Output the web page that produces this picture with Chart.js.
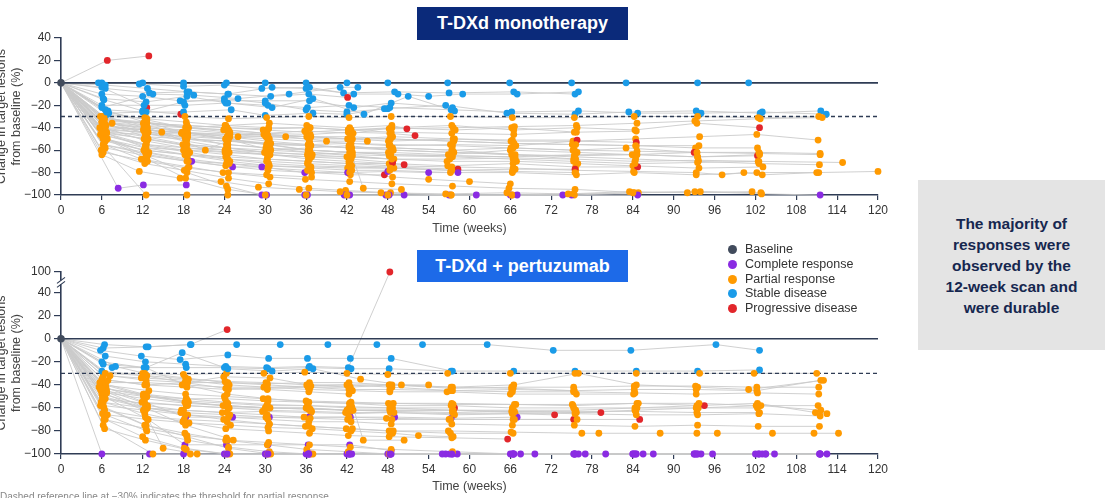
<!DOCTYPE html>
<html>
<head>
<meta charset="utf-8">
<script src="https://cdn.jsdelivr.net/npm/chart.js@4.4.1/dist/chart.umd.min.js"></script>
<style>
  body { margin:0; width:1109px; height:498px; overflow:hidden; background:#fff; position:relative;
         font-family:"Liberation Sans", Arial, sans-serif; }
  canvas { position:absolute; }
  #monoChart { left:-6px; top:0; }
  #pertChart { left:-6px; top:240px; }
  .tag { position:absolute; left:417px; width:211px; color:#fff; font-weight:bold; font-size:18px;
         text-align:center; }
  #monoTag { top:7px; height:33px; line-height:33px; background:#0b2a7a; }
  #pertTag { top:250px; height:32px; line-height:32px; background:#1d6ae8; }
  #legend { position:absolute; left:727px; top:242px; font-size:12.5px; color:#333; }
  #legend div { height:14.8px; line-height:14.8px; white-space:nowrap; }
  #legend span { display:inline-block; width:9px; height:9px; border-radius:50%; margin:0 8px 0 1px; vertical-align:-1px; }
  #note { position:absolute; left:918px; top:180px; width:187px; height:170px; background:#e4e4e4;
          display:flex; align-items:center; justify-content:center; text-align:center;
          color:#16274f; font-weight:bold; font-size:15.5px; line-height:21px; }
  #foot { position:absolute; left:0; top:491px; font-size:10px; color:#888; white-space:nowrap; }
</style>
</head>
<body>
<canvas id="monoChart" width="902" height="240"></canvas>
<canvas id="pertChart" width="902" height="258"></canvas>
<div class="tag" id="monoTag">T-DXd monotherapy</div>
<div class="tag" id="pertTag">T-DXd + pertuzumab</div>
<div id="legend"></div>
<div id="note"><div>The majority of<br>responses were<br>observed by the<br>12-week scan and<br>were durable</div></div>
<div id="foot">Dashed reference line at &minus;30% indicates the threshold for partial response</div>
<script>
// response categories (C complete, P partial, S stable, D progressive)
const legendLabels = ['Baseline', 'Complete response', 'Partial response', 'Stable disease', 'Progressive disease'];
const legendColours = ['#414b5c', '#8a2be2', '#ff9a00', '#1a9be8', '#e2262b'];
const statusColours = { C: '#8a2be2', P: '#ff9a00', S: '#1a9be8', D: '#e2262b' };

const weekTicks = [0, 6, 12, 18, 24, 30, 36, 42, 48, 54, 60, 66, 72, 78, 84, 90, 96, 102, 108, 114, 120];
const monoYTicks = [-100, -80, -60, -40, -20, 0, 20, 40];
const pertYTicks = [-100, -80, -60, -40, -20, 0, 20, 40, 100];

// T-DXd monotherapy: one row per patient
const monoWeeks = [
  [6.8, 12.9],
  [6, 12.6],
  [6.3, 12, 17.6],
  [6, 12, 18, 24.3, 30, 36, 42, 48, 56.8, 65.9, 75, 83, 93.5, 101],
  [5.5, 11.5, 18, 24, 29.5, 36.5, 41.5, 49, 57, 66.5, 75.5],
  [6.5, 13, 18.5, 24.5, 31, 36, 43, 49.5, 54, 59, 67, 76],
  [6, 12, 17.5, 24, 30, 36.5, 43, 48.5, 57.5],
  [6.2, 12.5, 18.5, 24.5, 31, 37, 44.5, 51, 57.8],
  [6, 12.2, 18.2, 24.2, 30.4, 36.2, 42.3, 48.3, 57.3, 66.2, 76, 84.7, 94, 103, 112.4],
  [6.5, 12, 18, 24, 30, 36, 42, 48, 56.5, 65.5, 75.5, 83.4, 93.3, 102.7, 111.6],
  [7, 12.5, 18, 25, 30, 37, 42, 47.5],
  [6, 13.5, 19.5, 26, 33.5, 41, 43.6],
  [5.8, 12.3, 18.2, 24.6, 30.2, 36.4, 42.3, 48.5, 57.2, 66.3, 75.4, 84.2, 93.5, 102.4, 111.3],
  [6.2, 12.6, 18.5, 24.2, 30.5, 36.6, 42.6, 48.2, 57.6, 66.6, 75.7, 84.6, 93.1, 102.7, 111.8],
  [6.6, 12.1, 17.8, 24.8, 29.8, 36.1, 42.1, 48.7, 57.8, 66.1, 75.2, 84.4, 93.8, 102.2, 111.2],
  [6, 12.5, 18, 24.4, 30.3, 36.3, 42.5, 48.4, 57.4, 66.4, 75.6, 84.1, 93.3, 97.1, 100.3, 103, 111, 120],
  [6.4, 12.4, 18.6, 24.1, 30.6, 36.8, 42.2, 48.9, 57.1, 66.7, 75.3, 84.3, 93.6, 102.5, 114.8],
  [5.7, 12.7, 18.3, 24.5, 30.1, 36.5, 42.8, 48.1, 56.9, 66, 75.8, 83.9, 93.4, 102.6, 111.5],
  [6.3, 11.8, 18.8, 23.8, 30.7, 35.9, 42.4, 48.6, 57.5, 65.8, 75.5, 84.8, 93.9, 102.9, 111.5],
  [6.1, 12.2, 18.4, 24.7, 30.4, 36.7, 42.7, 48.3, 57.7, 66.5, 75.1, 84.5, 93.2, 102.3],
  [6.7, 12.8, 17.9, 24.3, 29.9, 36.2, 42, 48.8, 56.7, 66.9, 75.9, 84, 93.7, 103.1],
  [5.9, 12.3, 18.1, 24.6, 30.5, 36.4, 41.8, 48.4, 57.3, 66.3, 75.4, 84.2, 93.1, 102.8],
  [6.4, 12.6, 18.7, 23.9, 30.2, 35.8, 42.9, 48.5, 57.9, 66.2, 75.7, 84.5],
  [6.2, 12.4, 18.3, 24.5, 30.8, 36.6, 42.5, 48.2, 57.2, 66.8, 75.3, 84.5],
  [6.5, 12.2, 18.6, 24.2, 30.3, 36.3, 42.3, 48.7, 56.8, 66.4, 75.6, 84.7],
  [6, 12.7, 18.2, 24.8, 30.6, 36.5, 42.6, 48.3, 57.5, 66.1, 75.2, 83, 93],
  [6.3, 12.1, 18.5, 24.4, 29.7, 36, 42.2, 48.6, 57.4, 66.5, 75.8, 84.3, 93.4, 102.6],
  [6.6, 12.5, 18.4, 24.1, 30.4, 36.9, 42.4, 48.4, 57.1, 66.6, 75.5, 84.6, 93.5, 102.3],
  [6.1, 12.3, 17.7, 24.6, 30.1, 36.4, 42.8, 48.1, 57.6, 66.3, 75.8],
  [6.8, 12.9, 18.6, 24.3, 30.5, 36.7, 42.1, 48.9, 57.3, 66.7, 75.5],
  [5.8, 12.4, 18.9, 24.5, 30.2, 36.2, 42.7, 48.5, 58.3],
  [6.4, 12.6, 18.2, 24.7, 30.7, 36.5, 42.3, 48.2, 50.4],
  [6.2, 12.8, 18.5, 24.2, 30.4, 36.8, 42.5, 47.5],
  [6.7, 12.2, 18.3, 24.4, 30.3, 36.3, 42.6, 48.7],
  [6.3, 12.5, 18.7, 24.6, 29.9, 36.6, 42.2, 48.3, 52],
  [6, 12.3, 18.4, 24.1, 30.6, 36.1, 42.4, 48.6, 50.8],
  [6.5, 12.7, 18.8, 24.6, 30.8, 36.4, 42.1],
  [8.4, 12.1, 18.4],
  [6.2, 12.4, 19.2, 25.2, 29.5, 35.8, 42.1, 48, 54, 58.3],
  [6.6, 12.6, 18.3, 24.5, 30.2, 36.2, 42.4, 48.2, 50.4, 61, 67, 73.7],
  [6.1, 12.5, 18.5, 24.3, 29.5, 35.8, 41.6, 47.7, 57, 66, 75, 84.7],
  [6.4, 12.5, 18.5, 24.5, 30, 36, 42, 48, 57.3, 66.2, 75.3, 84],
  [6, 11.5, 17.5, 23.5, 29, 35, 41, 47, 56.5, 65.5, 74.5, 83.5, 92, 101.5],
  [6.5, 12.4, 18.6, 24.4, 30.4, 36.3, 42.5, 48.6, 57.6, 66.4, 75.4, 84.4, 93.6, 102.5, 111.4],
  [6.2, 12.2, 18.2, 24.8, 30.6, 36.7, 42.7, 48.3, 57.2, 66.3, 75.7, 84.2, 93.3, 102.2, 111.3],
  [6.8, 12.6, 18.4, 24.2, 30.5, 36.5, 42.2, 48.5, 57.4, 66.5, 75.4],
  [6.9, 12.3, 18.6, 24.6, 30.2, 36.3, 42.6, 48.4, 57.3, 66.6],
  [6.2, 12.8, 18.1, 24.3, 30.8, 36.4, 42.3, 48.8, 57.7, 66.2, 75.6],
  [6.4, 12.4, 18.5, 24.5, 30.3, 36.6, 42.5, 48.2, 57.5, 66.4, 75.3, 84.3, 93.5, 102.4],
  [6.5, 12.6, 18.7, 24.7, 30.4, 36.2, 42.4, 48.7, 54, 60, 66],
  [6.3, 12.2, 18.3, 24.2, 30.6, 36.5, 42.6, 44.4, 50],
  [6.1, 14.8, 21.2, 26, 33, 39, 45],
  [6.6, 12.5, 18.4, 24.4, 30.5, 36.4, 42.4, 48.4, 57.4, 66.3, 75.5],
  [6.2, 12.7, 18.6, 24.6, 30.2, 36.8],
  [6.4, 12.3, 18.2, 24.3, 30.7, 36.3, 42.8, 48.6],
  [6, 12.4, 18.5, 24.5, 30.4, 36.4, 42.3, 48.5, 57.5, 66.4, 75.4, 84.6, 93.4, 102.5, 111.5],
  [6.7, 12.6, 18.3, 24.8, 30.3, 36.5, 42.5, 48.4, 57.6, 66.5, 75.6, 84.4, 93.7],
  [6.3, 12.5, 18.6, 24.2, 30.6, 36.7, 42.7, 48.7, 57.4, 66.7, 75.4, 84.5, 93.5, 102.6],
  [7.5, 12.4, 18.4, 24.4, 30.3]
];
const monoChange = [
  [20, 24],
  [-4, -22],
  [-15, -25, -28],
  [0, 0, 0, 0, 0, 0, 0, 0, 0, 0, 0, 0, 0, 0],
  [0, -1, -3, -2, -5, -4, -9, -8, -9, -8, -10],
  [-5, -9, -8, -10, -4, -5, -10, -10, -12, -10, -10, -8],
  [-10, -12, -16, -16, -16, -16, -22, -18, -22],
  [-14, -17, -12, -18, -22, -14, -28, -12, -25],
  [-20, -20, -20, -18, -20, -22, -20, -22, -24, -26, -25, -27, -27, -26, -28],
  [-24, -26, -17, -14, -18, -24, -26, -23, -20, -27, -28, -26, -25, -27, -25],
  [-27, -26, -26, -24, -29, -27, -28, -23],
  [-22, -10, -11, -14, -10, -4, -4],
  [-30, -31, -30, -32, -31, -30, -31, -30, -30, -31, -31, -30, -30, -31, -30],
  [-33, -36, -38, -40, -41, -40, -42, -41, -40, -39, -38, -36, -34, -32, -31],
  [-38, -42, -44, -46, -46, -48, -50, -48, -50, -52, -52, -50, -48, -46, -51],
  [-44, -55, -60, -64, -68, -70, -72, -74, -75, -76, -78, -79, -80, -82, -80, -82, -80, -79],
  [-50, -58, -60, -62, -64, -66, -66, -68, -68, -67, -68, -70, -69, -70, -71],
  [-40, -45, -50, -55, -58, -60, -62, -62, -64, -60, -62, -64, -62, -63, -64],
  [-55, -68, -75, -80, -84, -86, -88, -90, -92, -94, -95, -98, -97, -99, -100],
  [-36, -40, -42, -45, -47, -48, -50, -50, -52, -54, -55, -56, -58, -58],
  [-45, -50, -55, -58, -62, -64, -66, -68, -70, -70, -72, -74, -76, -75],
  [-60, -72, -78, -85, -90, -94, -96, -98, -100, -100, -100, -98, -97, -98],
  [-32, -35, -40, -42, -45, -43, -45, -40, -42, -40, -44, -43],
  [-42, -48, -50, -52, -54, -55, -54, -56, -55, -56, -52, -53],
  [-52, -60, -64, -66, -68, -70, -72, -72, -74, -72, -75, -75],
  [-35, -40, -44, -48, -50, -52, -54, -55, -56, -58, -60, -58, -62],
  [-34, -36, -38, -40, -42, -44, -42, -40, -38, -42, -40, -42, -36, -40],
  [-47, -55, -58, -60, -62, -64, -62, -64, -65, -66, -64, -64, -66, -65],
  [-38, -42, -45, -46, -48, -50, -50, -52, -50, -51, -51],
  [-50, -62, -68, -72, -74, -75, -76, -76, -78, -77, -77],
  [-46, -56, -62, -68, -70, -72, -74, -75, -77],
  [-40, -52, -58, -62, -64, -68, -70, -72, -73],
  [-55, -64, -70, -74, -78, -80, -82, -82],
  [-44, -50, -56, -60, -64, -66, -68, -71],
  [-32, -36, -40, -42, -45, -46, -44, -45, -47],
  [-35, -38, -40, -38, -36, -38, -40, -38, -41],
  [-2, -5, -8, -10, -12, -10, -13],
  [-94, -91, -91],
  [-55, -62, -70, -75, -75, -80, -80, -79, -80, -80],
  [-50, -68, -85, -95, -100, -100, -100, -100, -100, -100, -100, -100],
  [-48, -65, -80, -92, -100, -100, -100, -100, -100, -100, -100, -100],
  [-58, -100, -100, -100, -100, -100, -100, -100, -100, -100, -99, -98],
  [-64, -79, -85, -88, -93, -95, -97, -98, -99, -98, -99, -97, -98, -97],
  [-40, -42, -45, -48, -52, -55, -58, -60, -62, -64, -66, -68, -70, -72, -73],
  [-50, -60, -64, -70, -74, -76, -78, -78, -80, -80, -82, -80, -82, -80, -80],
  [-28, -32, -35, -38, -40, -40, -42, -44, -45, -46, -44],
  [-25, -35, -45, -50, -55, -60, -62, -64, -65, -66],
  [-42, -44, -46, -50, -60, -58, -56, -60, -62, -64, -68],
  [-36, -48, -55, -58, -60, -62, -64, -65, -66, -68, -70, -72, -71, -70],
  [-58, -65, -70, -72, -76, -78, -80, -84, -86, -88, -90],
  [-30, -38, -44, -50, -55, -60, -62, -94, -95],
  [-35, -44, -60, -48, -48, -52, -52],
  [-45, -58, -64, -68, -72, -74, -75, -76, -78, -79, -80],
  [-62, -70, -76, -80, -82, -84],
  [-38, -44, -48, -55, -58, -62, -65, -68],
  [-30, -40, -50, -52, -55, -56, -58, -58, -60, -58, -60, -61, -62, -62, -63],
  [-26, -33, -40, -44, -46, -48, -48, -50, -52, -54, -55, -56, -56],
  [-44, -46, -48, -50, -54, -56, -58, -58, -60, -64, -65, -64, -66, -64],
  [-36, -45, -52, -58, -62]
];
// one letter for every visit, or a single letter for all visits
const monoStatus = [
  'DD', 'SD', 'SSD', 'S', 'S', 'S', 'S', 'S', 'S', 'S', 'S', 'S',
  'P', 'P', 'P', 'P', 'P', 'P', 'PPPPPPPPPPPPPPC', 'P', 'P', 'P', 'P',
  'PPPPPPPPPPPD', 'PPPPPPPPPPPD', 'PPPPPPPPPPPPD', 'PPPPPPPPPPPPPD', 'PPPPPPPPPPPPPD',
  'PPPPPPPPPPD', 'PPPPPPPPPPD', 'PPPPPPPPD', 'PPPPPPPPD', 'PPPPPPPD', 'PPPPPPPD',
  'PPPPPPPPD', 'PPPPPPPPD', 'SSSSSSD', 'C', 'PPCCCCCCCC', 'PPPPCCCCCCCC', 'PPPPCCCCCCCC',
  'P', 'P', 'P', 'P', 'SPPPPPPPPPP', 'SPPPPPPPPP', 'P', 'P', 'P', 'P', 'P', 'P', 'P', 'P', 'P',
  'SPPPPPPPPPPPP', 'P', 'P'
];

// T-DXd + pertuzumab: one row per patient
const pertWeeks = [
  [6.2, 12.8, 19, 24.4],
  [6.5, 12.4, 18.3, 24.2, 30.2, 36.5, 42.2, 48.3],
  [6.4, 12.5, 19.1, 25.8, 32.2, 39.2, 46.4, 53.1, 62.6, 72.3, 83.7, 96.2, 102.6],
  [5.8, 11.8, 17.5, 24.5, 30.5, 36.2, 42.5, 48.5, 57.5],
  [6, 12.2, 18.4, 24, 30.4, 36.4, 42.6, 48.2, 57.3, 66.5, 75.5, 84.5, 93.5, 102.6],
  [6.3, 12, 18, 24.3, 29.8, 35.8, 42, 48, 56.8, 66, 75.5, 84.5, 93.8, 101.8, 111],
  [7.5, 12.5, 17.8, 24.5, 31, 37, 44, 50, 57.5, 66.5, 76, 84.5, 93.5, 101, 112],
  [6, 12.3, 18.5, 24.6, 30.3, 36.3, 42.3, 48.6, 57.3, 66.2, 75.3, 84.2, 93.2, 102.2, 111.3],
  [5.6, 12.6, 18.2, 23.8, 30, 36, 42, 48.3, 57.6, 66.4, 75.6, 84.6, 93.4, 102.3, 110.8, 112.5],
  [6.1, 12.7, 18.6, 23.9, 30.6, 35.9, 42.8, 48.8, 56.9, 66.1, 76.5, 79, 88, 93.4, 96.4, 104.5, 110.6, 114.2],
  [5.9, 12.4, 17.7, 24.4, 29.6, 36.7, 42.4, 48.4, 57.8, 66.7, 75.7, 84.3, 93.6, 102.8, 111.6],
  [6, 13, 18, 24, 30, 36, 42, 48, 56.5, 66, 75.5, 84, 93, 102, 111.5],
  [6.6, 12.2, 18.3, 25.2, 30.6, 36.4, 42.5, 49, 57.3, 67],
  [6.3, 12.8, 18.2, 24.3, 30.4, 36.3, 42.4, 48.5],
  [5.8, 12.5, 18.5, 24.6, 30.8, 36.6],
  [6.4, 12.6, 18.6, 24.5, 30.2, 36.2, 42.7, 48.7, 57.8],
  [6.2, 12.3, 17.9, 24.2, 30.5, 36.5, 42.2, 48.2, 57.4, 65.6],
  [6.7, 11.9, 18.4, 24.7, 29.9, 36.8, 41.8, 48.9, 57.7, 66.3, 72.5],
  [6, 12.7, 18, 23.7, 30.3, 35.7, 42.3, 47.8, 57, 66.6, 75.3],
  [5.7, 12.1, 18.7, 24.3, 30.7, 36.3, 42.9, 48.4, 57.5, 66.2, 75.6, 79.3],
  [6.5, 12.4, 17.6, 24.8, 30.1, 36.6, 42.1, 48.6, 57.2, 66.4, 75.8, 85],
  [6.2, 12.9, 18.3, 24, 29.7, 36, 42.6, 48.1, 57.6, 66.8, 75.2, 84.6, 94.5],
  [6.3, 12.3, 18.2, 24.2, 30.3, 36.1, 42.2, 48.2, 57.1, 66.3, 75.3, 84.2, 93.2, 102.5, 111.5],
  [6.1, 12.6, 18.6, 24.6, 30.6, 36.4, 42.4, 48.4, 56, 66.5, 76, 85.5, 94, 103.5, 112.5],
  [6.5, 12, 18.1, 24.4, 30.2, 36.3, 42.3, 48.3, 57.5, 67.5, 77, 87, 95.7, 104.8],
  [6.2, 13.5, 19, 24.8, 30.4, 37, 42.7, 48.5, 58.2, 69.6, 80, 84, 93, 103],
  [5.9, 12.1, 18.4, 24.1, 30.4, 36.2, 42.4, 48.8, 57.4, 66.6, 75.1, 84.8, 93.7, 102.1, 111.2],
  [6.6, 12.5, 17.8, 24.4, 29.8, 36.5, 42.8, 48.3, 56.7, 66, 75.7, 84.1],
  [6.2, 11.8, 18.5, 24.7, 30.2, 36.7, 42, 48.6, 57.5, 66.2, 75.4],
  [6.4, 12.4, 18.1, 24.4, 30.6, 36.4, 41.9, 48.2, 57.2, 66.4],
  [6.8, 12.7, 18.8, 24.9, 30.4, 36.9, 42.6, 48.7, 52.5, 57.6],
  [6, 12.2, 18.2, 24.2, 30.3, 36.4, 42.3, 44.4, 50.4],
  [6.9, 12.6, 18.4, 23.9, 30.7, 36.3, 42.5],
  [5.8, 12.5, 18.3, 24.3, 25.3],
  [6.3, 12.1, 15, 20],
  [6.1, 12.3, 18.6, 24.5, 30.5, 36.6, 42.4, 48.4, 57.6, 66.6, 75.5, 84.4, 93.4, 102.6],
  [6.5, 12.6, 18.7, 24.1, 30.1, 36.1, 42.1, 48.3, 57.3, 66.4, 75.3, 84.2, 93.3, 102.2, 111.6],
  [6.2, 12.4, 18.3, 24.6, 30.4, 36.4, 42.6, 48.5, 57.4, 66.3, 75.4, 84.3, 93.5, 102.4, 111.4],
  [6.7, 12.3, 18.4, 24.2, 30.5, 36.2, 42.2, 48.4],
  [7.2, 12.5, 18.6, 24.5, 30.3, 36.5, 42.3, 48.2, 54],
  [6, 12.2, 18.4, 24.3, 30.3, 36.3, 42.3, 48.3, 57.5, 66.5, 75.5, 84.5, 93.5, 102.5, 111.5],
  [6.2, 12.4, 18.2, 24.4, 30.4, 36.4, 42.4, 48.4, 57.3, 66.3, 75.3, 84.3, 93.3, 102.3],
  [8, 12.3, 18.3, 24.3, 30.3, 36.3, 42.3, 48.3, 57.3, 66.3, 75.3, 84.3, 93.3, 102.3, 111.3],
  [6.3, 12.5, 18.5, 24.5, 30.5, 36.5, 42.5, 48.5, 57.5, 66.5, 75.5, 84.5, 93.5, 102.5, 111.5],
  [6.4, 12.4, 18.4, 24.4, 30.4, 36.4, 42.4, 48.4, 57.4, 66.4, 75.4, 84.4, 93.4, 103.5, 111.4]
];
const pertChange = [
  [-8, -7, -5, 8],
  [-15, -20, -22, -24, -25, -24, -25, 100],
  [-5, -7, -5, -5, -5, -5, -5, -5, -5, -10, -10, -5, -10],
  [-10, -15, -18, -14, -17, -17, -17, -17, -28],
  [-20, -25, -25, -25, -26, -25, -26, -26, -28, -28, -28, -28, -28, -27],
  [-30, -30, -31, -30, -30, -29, -30, -31, -30, -30, -30, -30, -30, -30, -30],
  [-25, -25, -12, -26, -28, -26, -35, -40, -42, -40, -30, -40, -42, -44, -36],
  [-35, -40, -42, -44, -43, -42, -42, -40, -43, -42, -42, -41, -41, -42, -42],
  [-42, -50, -55, -58, -60, -60, -62, -62, -62, -62, -62, -60, -58, -56, -64, -65],
  [-50, -60, -66, -70, -74, -76, -78, -80, -80, -81, -82, -82, -82, -82, -82, -82, -82, -82],
  [-55, -60, -62, -64, -63, -64, -65, -64, -66, -65, -64, -62, -60, -58, -62],
  [-100, -100, -100, -100, -100, -100, -100, -100, -100, -100, -100, -100, -100, -100, -100],
  [-42, -55, -68, -68, -68, -68, -68, -68, -69, -68],
  [-50, -70, -92, -92, -92, -92, -92, -97],
  [-58, -75, -85, -95, -100, -100],
  [-40, -50, -54, -56, -58, -58, -59, -60, -60],
  [-55, -65, -72, -78, -80, -82, -84, -85, -86, -87],
  [-45, -55, -58, -60, -62, -63, -64, -64, -65, -65, -66],
  [-48, -58, -62, -64, -66, -68, -68, -69, -70, -70, -70],
  [-38, -48, -55, -58, -60, -61, -62, -63, -64, -63, -64, -64],
  [-52, -60, -64, -66, -68, -69, -70, -70, -70, -70, -70, -70],
  [-40, -45, -48, -50, -52, -54, -55, -56, -57, -57, -58, -56, -58],
  [-60, -75, -82, -88, -92, -96, -98, -100, -100, -100, -100, -100, -100, -100, -100],
  [-65, -80, -88, -94, -98, -100, -100, -100, -100, -100, -100, -100, -100, -100, -100],
  [-70, -85, -95, -100, -100, -100, -100, -100, -100, -100, -100, -100, -100, -100],
  [-75, -100, -100, -100, -100, -100, -100, -100, -100, -100, -100, -100, -100, -100],
  [-45, -50, -52, -52, -54, -55, -56, -56, -56, -57, -57, -56, -56, -58, -58],
  [-38, -38, -40, -42, -42, -44, -45, -46, -46, -48, -48, -48],
  [-32, -34, -36, -40, -42, -41, -40, -42, -45, -44, -45],
  [-62, -68, -70, -72, -74, -76, -78, -80, -82, -82],
  [-66, -70, -73, -75, -77, -78, -80, -82, -84, -85],
  [-28, -32, -38, -43, -44, -46, -48, -88, -88],
  [-36, -40, -38, -33, -34, -40, -42],
  [-44, -60, -75, -86, -88],
  [-47, -62, -95, -100],
  [-52, -56, -58, -60, -60, -61, -62, -62, -62, -63, -63, -63, -64, -64],
  [-30, -32, -35, -37, -38, -40, -40, -40, -42, -43, -45, -44, -44, -45, -36],
  [-58, -62, -66, -68, -70, -72, -72, -74, -74, -75, -75, -76, -75, -76, -76],
  [-47, -52, -56, -58, -60, -60, -62, -62],
  [-32, -36, -38, -38, -39, -38, -38, -40, -40],
  [-43, -48, -52, -55, -57, -58, -60, -60, -62, -64, -65, -66, -66, -65, -67],
  [-22, -25, -40, -48, -52, -55, -56, -58, -58, -60, -60, -60, -60, -60],
  [-24, -30, -34, -38, -40, -42, -44, -44, -45, -46, -46, -47, -48, -47, -48],
  [-70, -78, -84, -88, -90, -92, -94, -96, -98, -100, -100, -100, -100, -100, -100],
  [-78, -88, -96, -100, -100, -100, -100, -100, -100, -100, -100, -100, -100, -100, -100]
];
const pertStatus = [
  'SSSD', 'SSSSSSSD', 'S', 'S', 'S', 'P', 'SSSSSSPPPPPPPPP', 'P', 'P', 'P', 'P', 'C',
  'PPCCCCCCCC', 'PPCCCCCC', 'PPPPPD', 'PPPPPPPPD', 'PPPPPPPPPD', 'PPPPPPPPPPD', 'PPPPPPPPPPD',
  'PPPPPPPPPPPD', 'PPPPPPPPPPPD', 'PPPPPPPPPPPPD', 'PPPPPPPPCCCCCCC', 'PPPPPCCCCCCCCCC',
  'PPPPCCCCCCCCCC', 'PPPPPPCCCCCCCC', 'P', 'P', 'P', 'P', 'P', 'SPPPPPPPP', 'P', 'P', 'P',
  'P', 'P', 'P', 'P', 'P', 'P', 'SSPPPPPPPPPPPP', 'SPPPPPPPPPPPPPP', 'PPPPPPPPPCCCCCC', 'PPPCCCCCCCCCCCC'
];

// the pertuzumab y axis is broken above 40 so that 100 sits just over it
const breakFrom = 40, breakTop = 58;
const pertY = v => v > breakFrom ? breakFrom + (v - breakFrom) * (breakTop - breakFrom) / 60 : v;
const monoY = v => v;

const axisColour = '#2f3c55';
const fmt = v => v < 0 ? '\u2212' + Math.abs(v) : String(v);

function spiderSets(weeks, change, status, yMap) {
  const sets = [];
  const pts = [], cols = [];
  weeks.forEach((w, i) => {
    const line = [{ x: 0, y: 0 }];
    w.forEach((wk, j) => {
      const p = { x: wk, y: yMap(change[i][j]) };
      line.push(p);
      pts.push(p);
      const code = status[i].length === 1 ? status[i] : status[i][j];
      cols.push(statusColours[code] || statusColours.P);
    });
    sets.push({ data: line, showLine: true, borderColor: '#cbcbcb', borderWidth: 0.9,
                pointRadius: 0, order: 4, clip: false });
  });
  sets.push({ data: [{ x: 0, y: -30 }, { x: 120, y: -30 }], showLine: true, borderColor: axisColour,
              borderWidth: 1.3, borderDash: [4, 3], pointRadius: 0, order: 3 });
  sets.push({ data: [{ x: 0, y: 0 }, { x: 120, y: 0 }], showLine: true, borderColor: axisColour,
              borderWidth: 1.6, pointRadius: 0, order: 3 });
  sets.push({ data: pts, pointBackgroundColor: cols, pointBorderWidth: 0, pointRadius: 3.4,
              order: 1, clip: false });
  sets.push({ data: [{ x: 0, y: 0 }], pointBackgroundColor: legendColours[0], pointBorderWidth: 0,
              pointRadius: 3.8, order: 0, clip: false });
  return sets;
}

function spiderOptions(yTicks, yMap, topPad, xHeight) {
  return {
    responsive: false,
    animation: false,
    events: [],
    layout: { padding: { top: topPad, right: 18, left: 0, bottom: 0 } },
    plugins: { legend: { display: false }, tooltip: { enabled: false } },
    scales: {
      x: {
        type: 'linear', min: 0, max: 120,
        afterBuildTicks: ax => { ax.ticks = weekTicks.map(v => ({ value: v })); },
        afterFit: ax => { ax.height = xHeight; },
        ticks: { color: '#333', font: { size: 12 }, padding: 3, maxRotation: 0, autoSkip: false },
        grid: { drawOnChartArea: false, tickLength: 5, color: axisColour, lineWidth: 1.2 },
        border: { color: axisColour, width: 1.6 },
        title: { display: true, text: 'Time (weeks)', color: '#444', font: { size: 12.5 },
                 padding: { top: 2, bottom: 4 } }
      },
      y: {
        type: 'linear', min: -100, max: yMap(yTicks[yTicks.length - 1]),
        afterBuildTicks: ax => { ax.ticks = yTicks.map(v => ({ value: yMap(v), label: v })); },
        afterFit: ax => { ax.width = 67; },
        ticks: {
          color: '#333', font: { size: 12 }, padding: 3,
          callback: function (val, idx) { return fmt(yTicks[idx]); }
        },
        grid: { drawOnChartArea: false, tickLength: 7, color: axisColour, lineWidth: 1.2 },
        border: { color: axisColour, width: 1.6 },
        title: { display: true, text: ['Change in target lesions', 'from baseline (%)'], color: '#444',
                 font: { size: 12.5 }, padding: { top: 0, bottom: 0 } }
      }
    }
  };
}

Chart.defaults.font.family = '"Liberation Sans", Arial, sans-serif';

new Chart(document.getElementById('monoChart'), {
  type: 'scatter',
  data: { datasets: spiderSets(monoWeeks, monoChange, monoStatus, monoY) },
  options: spiderOptions(monoYTicks, monoY, 38, 45)
});

// the two slashes over the pertuzumab y axis
const axisBreak = {
  id: 'axisBreak',
  afterDraw(chart) {
    const { ctx, scales } = chart;
    const x = scales.x.left;
    const y = scales.y.getPixelForValue((breakFrom + breakTop) / 2);
    ctx.save();
    ctx.fillStyle = '#fff';
    ctx.fillRect(x - 3, y - 2, 6, 4);
    ctx.strokeStyle = axisColour;
    ctx.lineWidth = 1.2;
    ctx.beginPath();
    ctx.moveTo(x - 4, y + 1); ctx.lineTo(x + 4, y - 5);
    ctx.moveTo(x - 4, y + 5); ctx.lineTo(x + 4, y - 1);
    ctx.stroke();
    ctx.restore();
  }
};

new Chart(document.getElementById('pertChart'), {
  type: 'scatter',
  data: { datasets: spiderSets(pertWeeks, pertChange, pertStatus, pertY) },
  options: spiderOptions(pertYTicks, pertY, 32, 44),
  plugins: [axisBreak]
});

const legend = document.getElementById('legend');
legendLabels.forEach((name, i) => {
  const row = document.createElement('div');
  row.innerHTML = '<span style="background:' + legendColours[i] + '"></span>' + name;
  legend.appendChild(row);
});
</script>
</body>
</html>
